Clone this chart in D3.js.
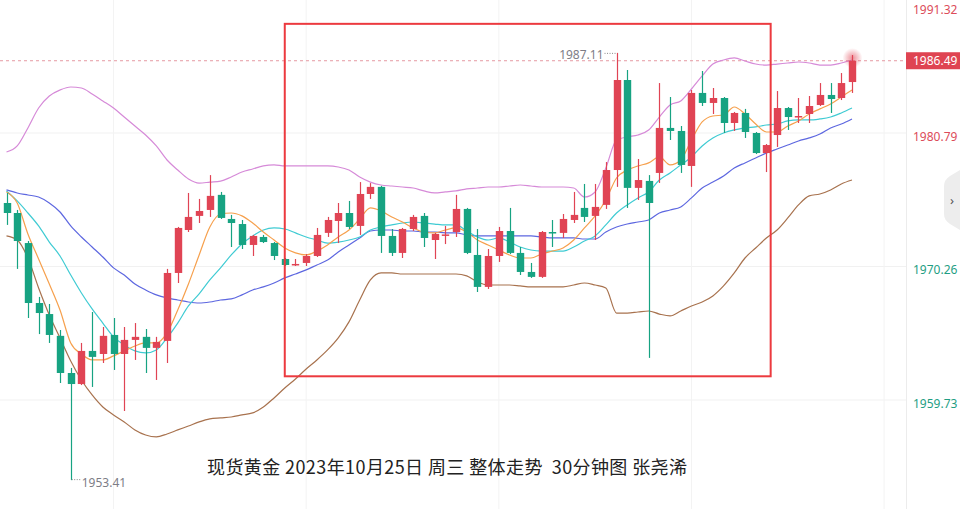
<!DOCTYPE html>
<html><head><meta charset="utf-8">
<script src="https://cdn.jsdelivr.net/npm/d3@7"></script>
<style>html,body{margin:0;padding:0;background:#fff;overflow:hidden}</style>
</head><body><svg id="c" width="960" height="509"></svg>
<script>
// ---- data (XAUUSD 30-min candles) ----
const opens = [1975.27,1974.48,1972.11,1967.38,1966.51,1964.79,1961.86,1960.99,1963.60,1963.36,
1964.86,1963.36,1964.47,1964.71,1963.84,1964.39,1969.75,1973.14,1974.25,1974.72,
1975.91,1974.01,1973.61,1971.96,1972.59,1972.11,1970.85,1970.38,1970.54,1971.09,
1972.91,1973.85,1974.48,1973.46,1975.98,1976.54,1972.67,1971.33,1973.22,1974.25,
1972.35,1972.71,1972.98,1974.80,1971.17,1968.65,1971.09,1973.06,1971.33,1969.83,
1969.44,1972.98,1972.91,1973.93,1974.88,1974.25,1975.12,1977.87,1984.97,1976.46,
1977.01,1977.64,1981.19,1980.95,1978.19,1983.95,1983.16,1983.55,1981.58,1982.37,
1980.79,1979.21,1980.63,1982.76,1982.05,1982.29,1983.00,1983.79,1983.55,1984.81];
const highs = [1976.06,1974.72,1972.27,1967.86,1967.30,1965.25,1962.26,1964.23,1966.67,1965.49,
1966.20,1965.49,1965.80,1965.33,1964.71,1970.07,1973.38,1976.06,1975.59,1977.47,
1976.14,1974.33,1973.93,1972.75,1972.75,1972.19,1970.93,1970.85,1971.24,1973.30,
1974.17,1975.27,1975.43,1976.92,1976.84,1976.62,1973.22,1973.30,1974.33,1974.48,
1972.91,1973.46,1975.91,1974.88,1973.22,1971.64,1973.38,1974.88,1971.80,1970.54,
1973.06,1973.93,1974.40,1976.14,1976.77,1976.77,1978.50,1987.11,1985.76,1978.74,
1977.47,1984.73,1983.63,1981.34,1984.18,1985.68,1984.34,1983.63,1982.45,1982.69,
1980.87,1979.92,1984.10,1982.84,1983.55,1983.71,1984.73,1984.73,1985.52,1986.94];
const lows = [1973.54,1970.07,1966.20,1964.93,1964.23,1961.07,1953.41,1960.91,1960.76,1962.65,
1962.10,1958.86,1962.89,1961.86,1961.31,1962.65,1968.96,1972.98,1973.69,1974.17,
1974.01,1971.80,1971.64,1971.09,1972.11,1970.77,1970.30,1970.30,1970.30,1971.01,
1972.59,1972.11,1973.22,1972.75,1975.59,1971.33,1971.09,1970.93,1973.06,1971.80,
1970.85,1972.03,1972.59,1971.24,1968.25,1968.49,1970.62,1971.24,1969.59,1969.36,
1969.36,1971.80,1972.51,1973.69,1973.77,1972.35,1974.80,1976.54,1974.88,1975.51,
1963.05,1976.85,1980.24,1977.64,1976.54,1982.92,1982.29,1980.79,1980.95,1980.40,
1979.13,1977.71,1979.69,1981.03,1981.58,1981.58,1982.92,1982.37,1983.39,1983.95];
const closes = [1974.48,1972.27,1967.38,1966.59,1964.86,1961.86,1960.99,1963.60,1963.13,1964.79,
1963.36,1964.47,1964.71,1963.84,1964.31,1969.75,1973.30,1974.17,1974.64,1975.83,
1974.09,1973.69,1971.96,1972.67,1972.19,1971.09,1970.38,1970.46,1971.09,1972.75,
1973.93,1974.48,1973.38,1975.98,1976.54,1972.67,1971.33,1973.22,1974.17,1972.51,
1972.83,1972.79,1974.80,1971.33,1968.65,1971.09,1973.06,1971.33,1969.83,1969.44,
1972.98,1972.91,1974.01,1974.33,1974.17,1974.96,1977.87,1984.97,1976.46,1977.08,
1975.27,1981.19,1980.95,1978.27,1983.95,1983.16,1983.55,1981.58,1982.37,1980.87,
1979.21,1979.84,1982.76,1982.05,1982.13,1982.92,1983.79,1983.47,1984.73,1986.49];

const ma5 = [1976.14,1975.27,1972.83,1970.85,1968.88,1966.83,1964.23,1963.36,1962.89,1962.89,
1963.21,1963.60,1963.99,1964.23,1964.23,1965.02,1966.83,1968.88,1971.17,1973.38,
1974.40,1974.48,1974.25,1973.69,1972.98,1972.35,1971.72,1971.33,1971.17,1971.48,
1971.96,1972.59,1973.14,1974.01,1974.88,1974.64,1974.17,1973.77,1973.30,1972.98,
1972.91,1973.14,1973.30,1972.98,1972.35,1971.96,1971.56,1971.17,1970.93,1970.93,
1971.25,1971.48,1971.72,1972.35,1973.30,1974.25,1975.51,1977.24,1977.87,1978.19,
1978.43,1978.90,1978.27,1978.66,1980.24,1981.66,1982.13,1982.21,1982.84,1982.29,
1981.50,1980.87,1980.87,1981.34,1981.74,1982.29,1982.69,1983.08,1983.63,1984.18];
const ma10 = [1976.22,1975.43,1974.48,1973.46,1972.19,1971.09,1969.59,1968.17,1966.91,1965.80,
1964.71,1964.07,1963.60,1963.44,1963.68,1964.63,1965.80,1967.15,1968.10,1969.20,
1970.15,1971.17,1972.04,1972.67,1973.14,1973.30,1973.22,1972.91,1972.59,1972.35,
1972.11,1972.19,1972.35,1972.59,1973.14,1973.38,1973.54,1973.69,1973.77,1973.69,
1973.61,1973.54,1973.54,1973.06,1972.59,1972.35,1972.51,1972.19,1971.80,1971.56,
1971.48,1971.48,1971.48,1971.80,1972.27,1972.67,1973.54,1974.48,1975.12,1975.67,
1976.14,1977.08,1977.64,1978.27,1978.90,1979.77,1980.40,1980.79,1981.03,1981.19,
1981.27,1981.42,1981.50,1981.74,1981.82,1981.82,1981.90,1982.05,1982.37,1982.76];
const bollMid = [1976.30,1976.06,1975.90,1975.74,1975.27,1974.56,1973.46,1972.59,1971.80,1971.01,
1970.15,1969.59,1968.88,1968.41,1968.02,1967.78,1967.62,1967.46,1967.38,1967.46,
1967.62,1967.70,1968.02,1968.41,1968.65,1968.96,1969.36,1969.67,1969.99,1970.38,
1970.77,1971.41,1971.96,1972.51,1973.06,1973.14,1973.14,1973.06,1973.06,1972.98,
1972.98,1972.91,1972.91,1972.75,1972.67,1972.67,1972.67,1972.67,1972.67,1972.67,
1972.59,1972.51,1972.51,1972.51,1972.43,1972.43,1972.98,1973.38,1973.61,1973.77,
1973.93,1974.48,1974.72,1974.96,1975.67,1976.45,1976.92,1977.40,1978.03,1978.43,
1978.82,1979.21,1979.53,1979.84,1980.16,1980.40,1980.71,1981.19,1981.50,1981.90];
const bollUp = [1979.29,1979.77,1981.19,1982.76,1983.71,1984.18,1984.42,1984.34,1983.87,1983.32,
1982.76,1982.05,1981.34,1980.63,1979.77,1978.66,1977.87,1977.16,1976.84,1976.92,
1977.00,1977.32,1977.71,1977.95,1978.19,1978.27,1978.19,1978.19,1978.19,1978.19,
1978.19,1978.11,1977.87,1977.32,1976.92,1976.69,1976.61,1976.53,1976.45,1976.22,
1976.06,1976.14,1976.22,1976.38,1976.45,1976.53,1976.53,1976.61,1976.69,1976.61,
1976.53,1976.53,1976.53,1976.45,1975.74,1976.14,1978.03,1980.24,1980.48,1980.63,
1981.03,1982.05,1983.00,1983.32,1984.26,1985.29,1986.23,1986.55,1986.71,1986.47,
1986.23,1986.15,1986.23,1986.31,1986.39,1986.31,1986.15,1986.15,1986.31,1986.55];
const bollLow = [1972.67,1972.35,1970.93,1968.57,1966.44,1964.63,1962.81,1961.31,1960.13,1959.18,
1958.55,1958.00,1957.37,1956.97,1956.82,1957.05,1957.37,1957.68,1958.00,1958.24,
1958.32,1958.39,1958.55,1958.71,1959.18,1959.89,1960.68,1961.39,1962.18,1962.89,
1963.68,1964.63,1965.89,1967.62,1969.20,1969.75,1969.75,1969.67,1969.67,1969.67,
1969.67,1969.67,1969.67,1969.52,1969.04,1968.80,1968.80,1968.80,1968.73,1968.65,
1968.65,1968.65,1968.65,1968.80,1968.96,1968.80,1968.57,1966.59,1966.59,1966.67,
1966.75,1966.51,1966.36,1966.75,1967.15,1967.46,1967.94,1968.73,1969.75,1970.93,
1971.72,1972.51,1973.14,1974.09,1975.12,1975.83,1975.98,1976.30,1976.77,1977.08];

const tickValues = [1991.32, 1980.79, 1970.26, 1959.73];
const prevClose = 1975.50;
const gridIndexes = [10, 28, 46, 64, 82];
const lastPrice = 1986.49;
const maxLabel = {i: 57, v: 1987.11, text: "1987.11"};
const minLabel = {i: 6, v: 1953.41, text: "1953.41"};
const boxRange = {i0: 26.0, i1: 71.4, top: 1989.40, bottom: 1961.60};
const title = "现货黄金 2023年10月25日 周三 整体走势  30分钟图 张尧浠";

// ---- chart ----
const svg = d3.select("#c");
const W = 960, H = 509, plotRight = 906;
const x = d3.scaleLinear().domain([0, 79]).range([6.5, 852]);
const y = d3.scaleLinear().domain([1959.73, 1980.79]).range([400, 133]);
const RED = "#e04454", GREEN = "#17a382";

// grid
const g = svg.append("g");
g.selectAll("line.h").data(tickValues).join("line")
  .attr("x1", 0).attr("x2", plotRight).attr("y1", d => y(d)).attr("y2", d => y(d))
  .attr("stroke", "#f1f1f1").attr("stroke-width", 1);
g.selectAll("line.v").data(gridIndexes).join("line")
  .attr("x1", d => x(d)).attr("x2", d => x(d)).attr("y1", 0).attr("y2", H)
  .attr("stroke", "#f3f3f3").attr("stroke-width", 1);
svg.append("line").attr("x1", plotRight + 0.5).attr("x2", plotRight + 0.5).attr("y1", 0).attr("y2", H)
  .attr("stroke", "#ececec");

// last price dashed line
svg.append("line").attr("x1", 0).attr("x2", plotRight).attr("y1", y(lastPrice)).attr("y2", y(lastPrice))
  .attr("stroke", "#e59aa3").attr("stroke-dasharray", "3,3").attr("stroke-width", 1);

// lines
const lineGen = d3.line().x((d, i) => x(i)).y(d => y(d)).curve(d3.curveMonotoneX);
const series = [
  {d: bollUp, c: "#d68ad8"},
  {d: bollLow, c: "#a8724e"},
  {d: bollMid, c: "#5d67e0"},
  {d: ma10, c: "#3fcbd3"},
  {d: ma5, c: "#f6a04d"}
];
svg.append("g").selectAll("path").data(series).join("path")
  .attr("d", s => lineGen(s.d)).attr("fill", "none").attr("stroke", s => s.c).attr("stroke-width", 1.2);

// candles
const idx = d3.range(opens.length);
const cg = svg.append("g");
const col = i => closes[i] >= opens[i] ? RED : GREEN;
cg.selectAll("line").data(idx).join("line")
  .attr("x1", i => Math.round(x(i)) + 0.5).attr("x2", i => Math.round(x(i)) + 0.5)
  .attr("y1", i => y(highs[i])).attr("y2", i => y(lows[i]))
  .attr("stroke", col).attr("stroke-width", 1.2);
cg.selectAll("rect").data(idx).join("rect")
  .attr("x", i => Math.round(x(i)) + 0.5 - 3.7).attr("width", 7.4)
  .attr("y", i => y(Math.max(opens[i], closes[i])))
  .attr("height", i => Math.max(1.5, Math.abs(y(opens[i]) - y(closes[i]))))
  .attr("fill", col);

// glow on last candle
const defs = svg.append("defs");
const rg = defs.append("radialGradient").attr("id", "glow");
rg.append("stop").attr("offset", "0%").attr("stop-color", "#e04454").attr("stop-opacity", 0.6);
rg.append("stop").attr("offset", "100%").attr("stop-color", "#e04454").attr("stop-opacity", 0);
svg.append("circle").attr("cx", x(79) + 0.5).attr("cy", y(highs[79]) + 3).attr("r", 10).attr("fill", "url(#glow)");

// high / low labels
const lblFont = "'Noto Sans', 'DejaVu Sans', sans-serif";
svg.append("line").attr("x1", x(maxLabel.i) - 12).attr("x2", x(maxLabel.i)).attr("y1", y(maxLabel.v) + 0.5).attr("y2", y(maxLabel.v) + 0.5)
  .attr("stroke", "#888").attr("stroke-dasharray", "1,1.5");
svg.append("text").attr("x", x(maxLabel.i) - 13).attr("y", y(maxLabel.v) + 6).attr("text-anchor", "end")
  .attr("font-family", lblFont).attr("font-size", 12).attr("fill", "#7d7d86").text(maxLabel.text);
svg.append("line").attr("x1", x(minLabel.i) + 1).attr("x2", x(minLabel.i) + 10).attr("y1", y(minLabel.v) - 0.5).attr("y2", y(minLabel.v) - 0.5)
  .attr("stroke", "#888").attr("stroke-dasharray", "1,1.5");
svg.append("text").attr("x", x(minLabel.i) + 11).attr("y", y(minLabel.v) + 7).attr("text-anchor", "start")
  .attr("font-family", lblFont).attr("font-size", 12).attr("fill", "#7d7d86").text(minLabel.text);

// red box
svg.append("rect").attr("x", x(boxRange.i0)).attr("y", y(boxRange.top))
  .attr("width", x(boxRange.i1) - x(boxRange.i0)).attr("height", y(boxRange.bottom) - y(boxRange.top))
  .attr("fill", "none").attr("stroke", "#ec3a3f").attr("stroke-width", 2);

// right axis
const axis = d3.axisRight(y).tickValues(tickValues).tickSize(0).tickPadding(0).tickFormat(d3.format(".2f"));
const ag = svg.append("g").attr("transform", `translate(${plotRight + 7},0)`).call(axis);
ag.select(".domain").remove();
ag.selectAll("text").attr("font-family", lblFont).attr("font-size", 12)
  .attr("fill", d => d > prevClose ? "#dc4c5a" : "#1f9e83")
  .attr("dy", "0.35em")
  .attr("y", d => Math.max(9 - y(d), 3));
// current price tag
svg.append("rect").attr("x", plotRight).attr("y", y(lastPrice) - 8.5).attr("width", W - plotRight).attr("height", 17).attr("fill", "#df4452");
svg.append("text").attr("x", plotRight + 7).attr("y", y(lastPrice)).attr("dy", "0.35em")
  .attr("font-family", lblFont).attr("font-size", 12).attr("fill", "#fff").text(lastPrice.toFixed(2));

// side tab
svg.append("path").attr("d", "M960,170 L950,176 Q944,180 944,186 L944,214 Q944,220 950,224 L960,230 Z").attr("fill", "#ededed");
svg.append("text").attr("x", 952).attr("y", 200).attr("dy", "0.35em").attr("text-anchor", "middle")
  .attr("font-family", lblFont).attr("font-size", 13).attr("fill", "#555").text("›");

// title
svg.append("text").attr("x", 207).attr("y", 474).attr("text-anchor", "start")
  .attr("font-family", "'Noto Sans CJK SC', 'Noto Sans', sans-serif").attr("font-size", 18).attr("fill", "#222")
  .attr("textLength", 480).attr("lengthAdjust", "spacing")
  .attr("xml:space", "preserve").style("white-space", "pre").text(title);
</script></body></html>
